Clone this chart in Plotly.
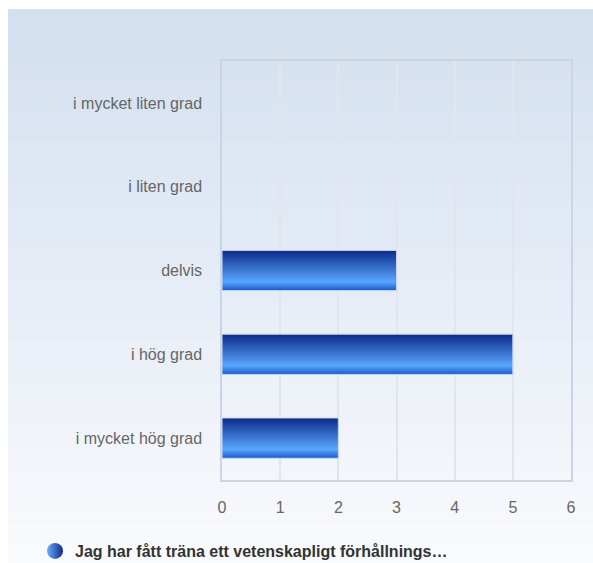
import plotly.graph_objects as go

categories = ["i mycket liten grad", "i liten grad", "delvis", "i hög grad", "i mycket hög grad"]
values = [0, 0, 3, 5, 2]
series_name = "Jag har fått träna ett vetenskapligt förhållnings…"
x_ticks = [0, 1, 2, 3, 4, 5, 6]

n = len(categories)
ypos = [n - 1 - i for i in range(n)]  # top to bottom
half = 0.24

fig = go.Figure()

W, H = 593, 563
L, R, T, B = 222, 22, 61, 83
pw, ph = W - L - R, H - T - B

# background panel gradient (decoration), starting at pixel (8, 9)
top = (211, 223, 239)
bot = (249, 250, 253)
y_top, y_bot = 1 + (T - 9) / ph, -B / ph
x_l, x_r = -(L - 8) / pw, 1 + R / pw
steps = 60
for k in range(steps):
    t = k / (steps - 1)
    c = tuple(round(top[j] + (bot[j] - top[j]) * t) for j in range(3))
    y1 = y_top - (y_top - y_bot) * k / steps
    y0 = y_top - (y_top - y_bot) * (k + 1) / steps
    fig.add_shape(type="rect", xref="paper", yref="paper", x0=x_l, x1=x_r + 0.05,
                  y0=y0 - 0.002 if k < steps - 1 else y0 - 0.05, y1=y1,
                  fillcolor="rgb(%d,%d,%d)" % c,
                  line=dict(width=0), layer="below")

grad = [[0, "#1a58cc"], [0.22, "#5aa6ff"], [1, "#0b2a8a"]]
for v, y in zip(values, ypos):
    if v <= 0:
        continue
    fig.add_trace(go.Scatter(
        x=[0, v, v, 0, 0], y=[y - half, y - half, y + half, y + half, y - half],
        mode="lines", fill="toself",
        fillgradient=dict(type="vertical", colorscale=grad),
        line=dict(color="#c9d6ee", width=1),
        showlegend=False, hoverinfo="skip"))

fig.add_trace(go.Scatter(
    x=[None], y=[None], mode="markers", name=series_name,
    marker=dict(size=16, color="#6aaeff", symbol="circle",
                gradient=dict(type="horizontal", color="#0b2a8a"),
                line=dict(width=0))))

fig.update_layout(
    width=W, height=H,
    margin=dict(l=L, r=R, t=T, b=B),
    paper_bgcolor="white", plot_bgcolor="rgba(0,0,0,0)",
    font=dict(family="Arial, Liberation Sans, sans-serif", size=16, color="#666666"),
    showlegend=True,
    legend=dict(orientation="h", xref="container", yref="container",
                x=35 / W, xanchor="left", y=1 - 551 / H, yanchor="middle",
                font=dict(size=16, color="#333333", family="Arial, Liberation Sans, sans-serif", weight="bold"),
                bgcolor="rgba(0,0,0,0)", itemsizing="trace"),
    xaxis=dict(range=[0, 6], tickvals=x_ticks, ticktext=[str(t) for t in x_ticks],
               showgrid=True, gridcolor="#e2e6ec", gridwidth=1.5, zeroline=False,
               showline=True, linecolor="#cfd4dc", linewidth=1.5, mirror=True,
               ticks="outside", ticklen=12, tickcolor="rgba(0,0,0,0)",
               tickfont=dict(size=16, color="#666666"), fixedrange=True),
    yaxis=dict(range=[-0.5, n - 0.5], tickvals=ypos, ticktext=categories,
               showgrid=False, zeroline=False,
               showline=True, linecolor="#c9d4e6", linewidth=1.5, mirror=True,
               ticks="outside", ticklen=15, tickcolor="rgba(0,0,0,0)",
               tickfont=dict(size=16, color="#666666"), fixedrange=True),
)

fig.write_html("out.html", config={"displayModeBar": False},
               post_script="document.body.style.margin='0';document.body.style.overflow='hidden';")
